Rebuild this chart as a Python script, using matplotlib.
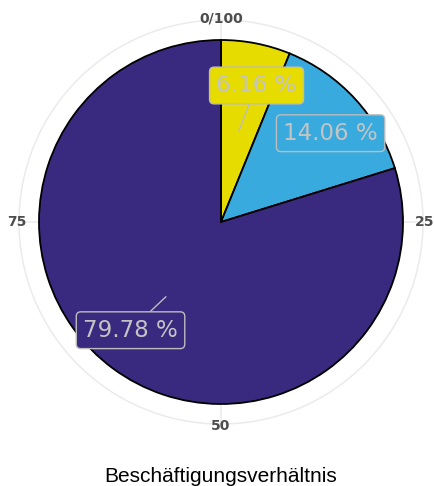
import numpy as np
import matplotlib
matplotlib.use('Agg')
import matplotlib.pyplot as plt
from matplotlib.patches import Circle

# Données
categories = ['a', 'b', 'c']
shares = [6.16, 14.06, 79.78]
colors = ['#e6dc00', '#38aadd', '#3a2a7f']
labels = ['6.16 %', '14.06 %', '79.78 %']
show_segment = [True, False, True]
tick_values = [0, 25, 50, 75]
tick_labels = ['0/100', '25', '50', '75']
title = 'Beschäftigungsverhältnis'

W, H = 434, 486
fig = plt.figure(figsize=(W / 100, H / 100), dpi=100)
ax = fig.add_axes([0, 0, 1, 1])
# unités en pixels, centre du camembert en (0, 0)
cx, cy = 221, 222
R = 182
R_grid = 202

# grille polaire
ax.add_patch(Circle((0, 0), R_grid, fill=False, ec='#ebebeb', lw=1.1, zorder=0))
for v in tick_values:
    a = np.deg2rad(v / 100 * 360)
    ax.plot([0, R_grid * np.sin(a)], [0, R_grid * np.cos(a)],
            color='#ebebeb', lw=1.1, zorder=0)

# camembert
ax.pie(shares, colors=colors, radius=R, startangle=90, counterclock=False,
       center=(0, 0), frame=True,
       wedgeprops=dict(edgecolor='black', linewidth=1.3))
ax.set_xlim(-cx, W - cx)
ax.set_ylim(-(H - cy), cy)
ax.set_aspect('equal')
ax.axis('off')

# étiquettes
cum = np.cumsum(shares) - np.array(shares) / 2
for s, c, lab, seg in zip(cum, colors, labels, show_segment):
    a = np.deg2rad(s / 100 * 360)
    ax_pt = (0.51 * R * np.sin(a), 0.51 * R * np.cos(a))
    al = a + np.deg2rad(3.5)
    txt_pt = (0.775 * R * np.sin(al), 0.775 * R * np.cos(al))
    ax.annotate(lab, xy=ax_pt, xytext=txt_pt, ha='center', va='center',
                fontsize=16.5, color='#c4c4c4', family='DejaVu Sans',
                bbox=dict(boxstyle='round,pad=0.3,rounding_size=0.2',
                          fc=c, ec='#bdbdbd', lw=1),
                arrowprops=dict(arrowstyle='-', color='#bdbdbd', lw=1,
                                shrinkA=0, shrinkB=0) if seg else None,
                zorder=5)

# libellés des ticks
for v, t in zip(tick_values, tick_labels):
    a = np.deg2rad(v / 100 * 360)
    ax.text(204 * np.sin(a), 204 * np.cos(a), t, ha='center', va='center',
            fontsize=10, fontweight='bold', color='#4d4d4d', zorder=3)

ax.text(0, -(476 - cy), title, ha='center', va='center',
        fontsize=15, family='Liberation Sans', color='black')

plt.savefig('out.png', dpi=100)
plt.close()
